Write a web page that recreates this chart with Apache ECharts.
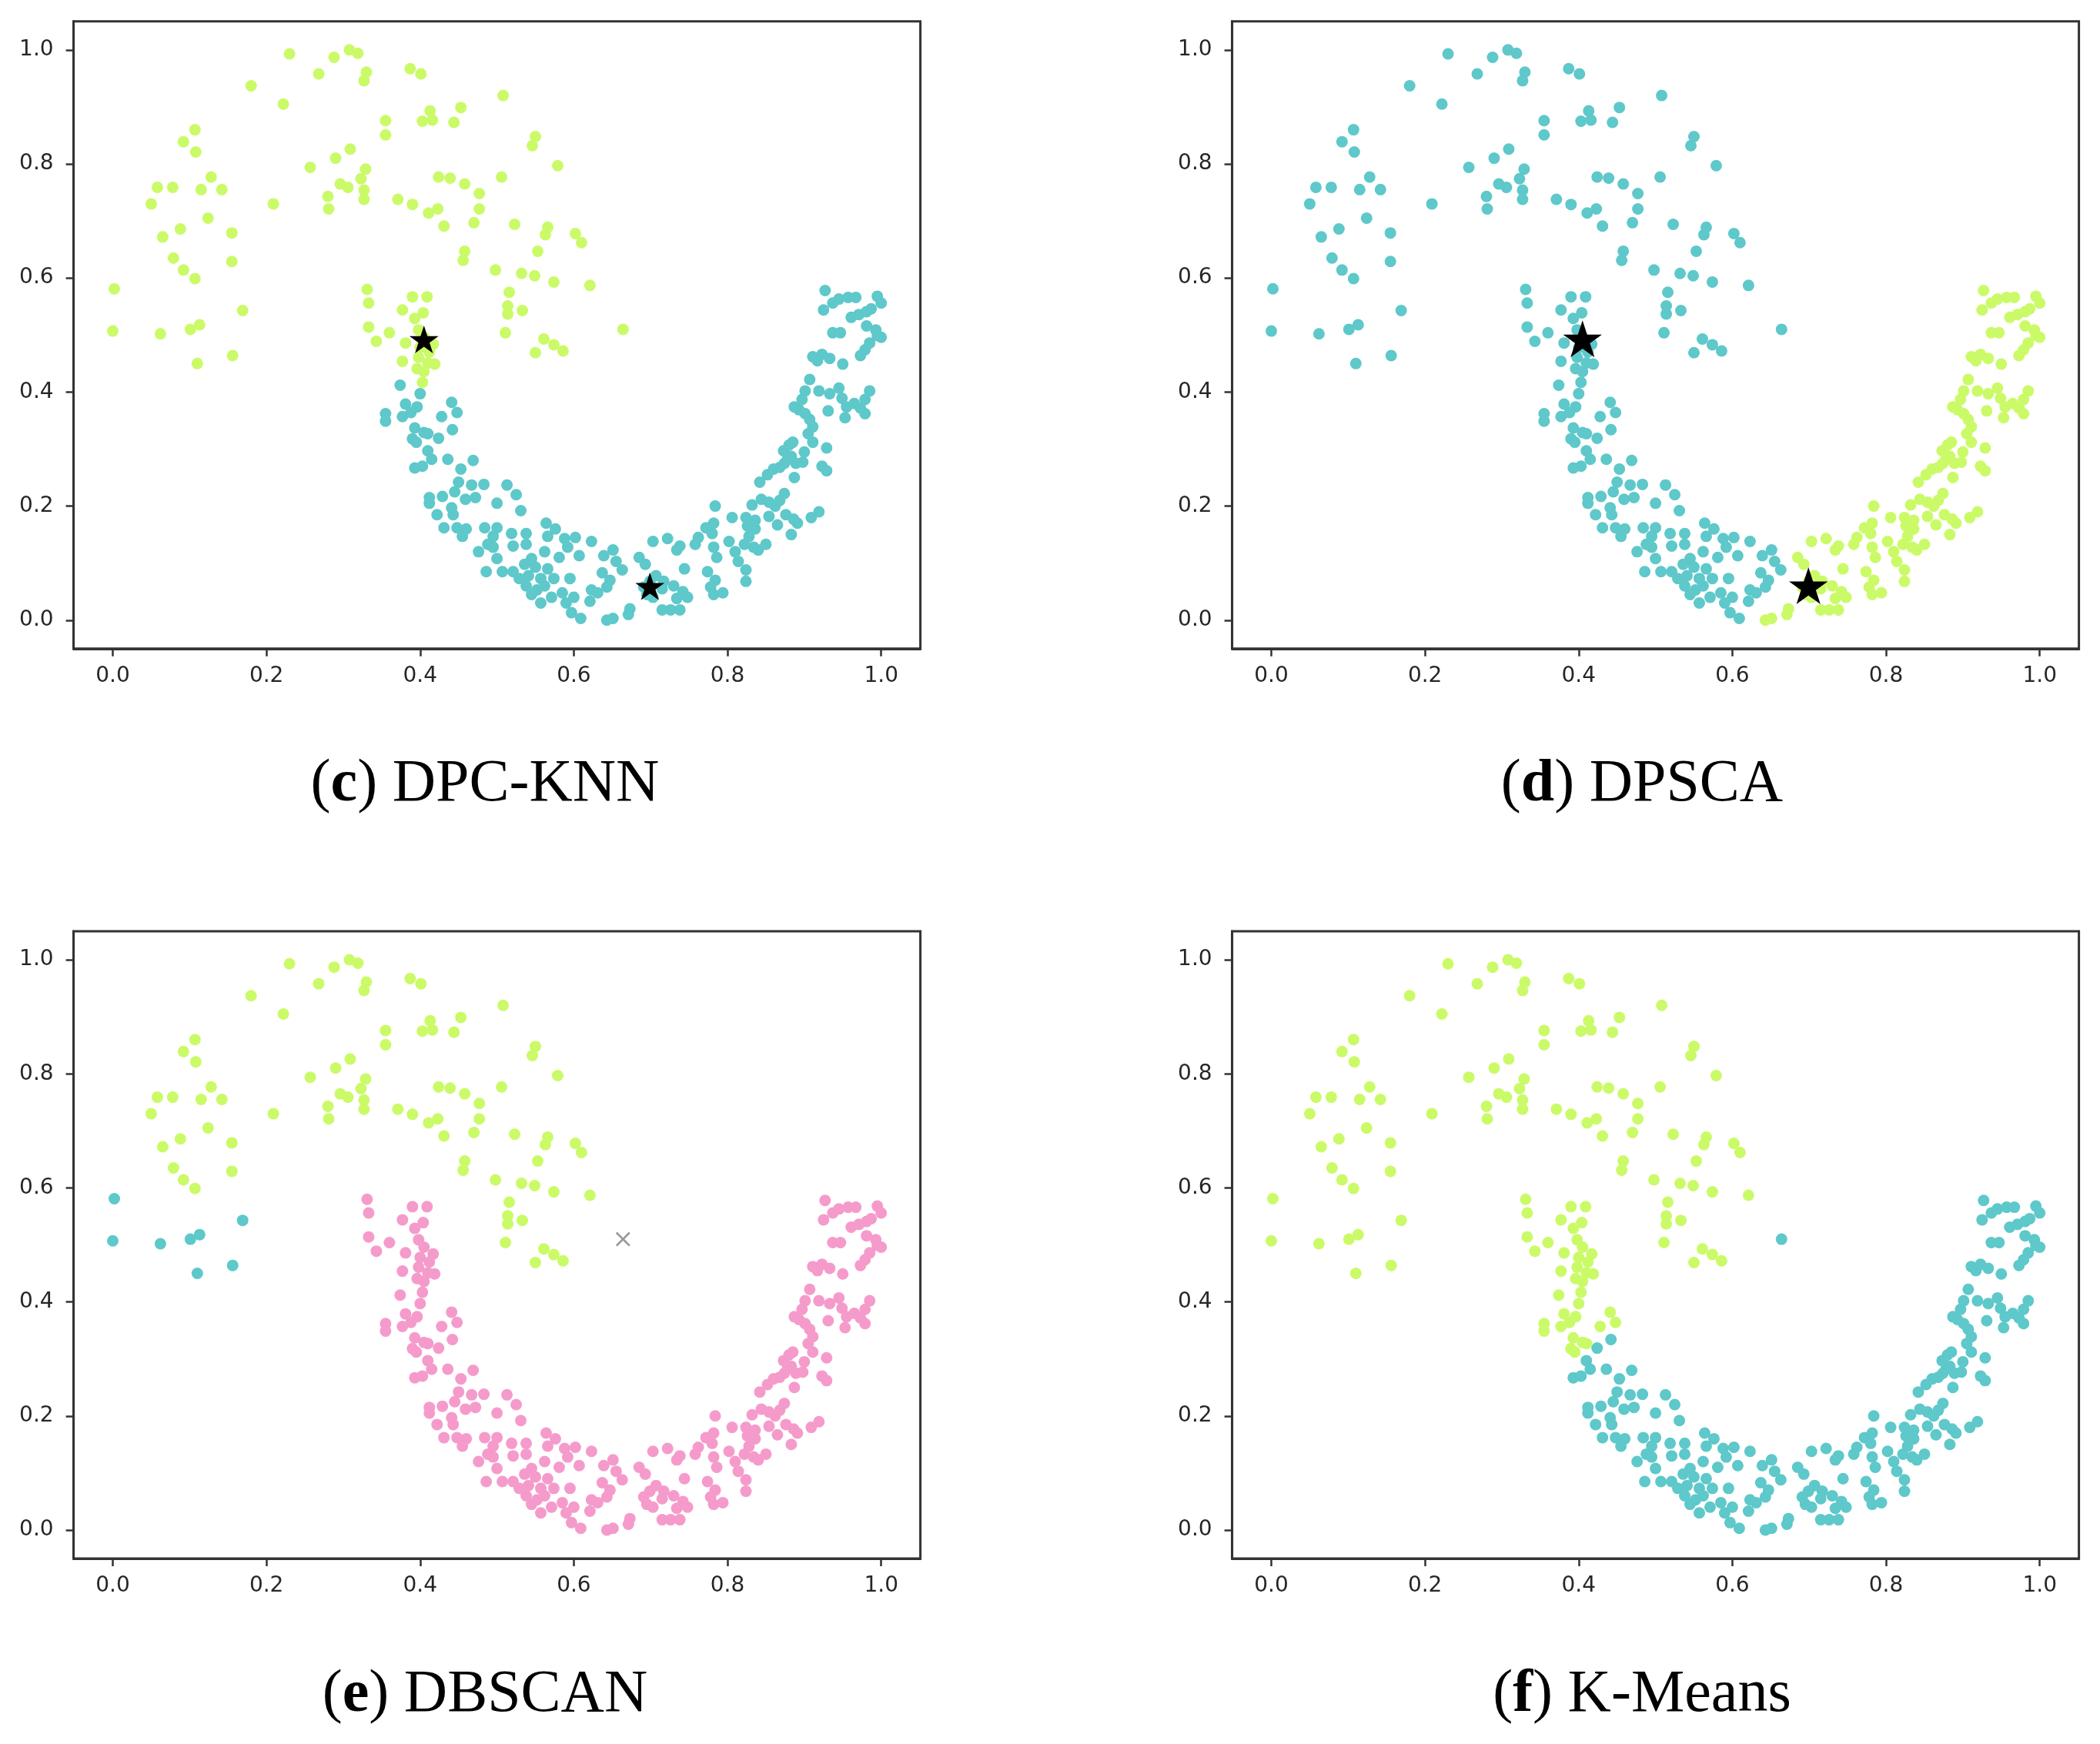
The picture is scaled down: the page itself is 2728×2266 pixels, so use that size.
<!DOCTYPE html>
<html>
<head>
<meta charset="utf-8">
<script src="https://cdn.jsdelivr.net/npm/echarts@6/dist/echarts.min.js"></script>
<style>
  html, body { margin: 0; padding: 0; background: #fff; }
  #chart { width: 2728px; height: 2266px; }
</style>
</head>
<body>
<div id="chart"></div>
<script>
// upper moon (without the small left group)
const upperArc = [
  [0.230,0.993],[0.288,0.987],[0.308,1.000],[0.319,0.994],[0.268,0.958],[0.330,0.961],[0.327,0.946],
  [0.387,0.967],[0.401,0.958],[0.180,0.937],[0.222,0.905],[0.508,0.920],[0.355,0.876],[0.355,0.851],
  [0.413,0.893],[0.403,0.875],[0.416,0.877],[0.453,0.899],[0.444,0.873],[0.107,0.860],[0.092,0.839],
  [0.108,0.821],[0.550,0.848],[0.546,0.832],[0.579,0.797],[0.309,0.826],[0.290,0.810],[0.257,0.794],
  [0.329,0.791],[0.323,0.774],[0.296,0.765],[0.306,0.759],[0.327,0.754],[0.327,0.738],[0.280,0.743],
  [0.281,0.721],[0.209,0.730],[0.424,0.777],[0.439,0.775],[0.458,0.765],[0.506,0.777],[0.477,0.748],
  [0.477,0.721],[0.470,0.697],[0.371,0.738],[0.390,0.729],[0.423,0.721],[0.411,0.714],[0.431,0.691],
  [0.523,0.694],[0.566,0.689],[0.563,0.676],[0.602,0.678],[0.610,0.662],[0.458,0.647],[0.456,0.631],
  [0.553,0.647],[0.498,0.614],[0.532,0.608],[0.549,0.604],[0.574,0.593],[0.621,0.587],[0.516,0.575],
  [0.514,0.551],[0.514,0.537],[0.533,0.543],[0.511,0.504],[0.561,0.493],[0.574,0.483],[0.586,0.472],
  [0.550,0.469],[0.058,0.759],[0.078,0.759],[0.050,0.730],[0.128,0.777],[0.115,0.755],[0.142,0.755],
  [0.124,0.705],[0.065,0.672],[0.088,0.686],[0.155,0.679],[0.079,0.635],[0.092,0.614],[0.107,0.599],
  [0.155,0.629]
];
// left end of the upper moon
const upperLeft = [
  [0.169,0.543],[0.002,0.581],[0.000,0.507],[0.062,0.502],[0.101,0.510],[0.113,0.518],[0.110,0.450],
  [0.156,0.464]
];
const noisePts = [[0.664,0.510]];
// lower moon, left tip
const lowerTip = [
  [0.331,0.580],[0.333,0.556],[0.390,0.567],[0.409,0.567],[0.377,0.544],[0.404,0.539],[0.393,0.529],
  [0.333,0.514],[0.360,0.504],[0.343,0.489],[0.398,0.509],[0.381,0.486],[0.405,0.496],[0.417,0.484],
  [0.377,0.454],[0.398,0.461],[0.410,0.451],[0.419,0.449],[0.396,0.441],[0.405,0.436],[0.403,0.417],
  [0.412,0.470],[0.400,0.478]
];
const lowerNeck = [
  [0.374,0.412],[0.400,0.397],[0.381,0.379],[0.396,0.374],[0.388,0.364],[0.355,0.362],[0.355,0.349],
  [0.377,0.357],[0.441,0.382],[0.448,0.364],[0.428,0.357],[0.393,0.337],[0.405,0.329],[0.390,0.318],
  [0.395,0.312],[0.410,0.327]
];
const lowerMid = [
  [0.442,0.334],[0.424,0.319],[0.410,0.297],[0.415,0.282],[0.436,0.282],[0.393,0.267],[0.403,0.270],
  [0.469,0.280],[0.453,0.265],[0.450,0.242],[0.467,0.237],[0.483,0.238],[0.513,0.237],[0.445,0.225],
  [0.525,0.220],[0.412,0.215],[0.429,0.217],[0.459,0.212],[0.472,0.215],[0.412,0.205],[0.500,0.205],
  [0.441,0.197],[0.422,0.185],[0.531,0.192],[0.443,0.185],[0.431,0.162],[0.448,0.162],[0.460,0.160],
  [0.455,0.147],[0.484,0.162],[0.500,0.162],[0.564,0.170],[0.576,0.160],[0.519,0.152],[0.538,0.152],
  [0.495,0.147],[0.488,0.133],[0.476,0.120],[0.495,0.128],[0.521,0.130],[0.538,0.133],[0.566,0.147],
  [0.588,0.143],[0.602,0.145],[0.592,0.128],[0.562,0.120],[0.607,0.113],[0.500,0.108],[0.545,0.108],
  [0.581,0.110],[0.550,0.093],[0.536,0.098],[0.521,0.085],[0.486,0.085],[0.507,0.085],[0.541,0.078],
  [0.529,0.073],[0.566,0.090],[0.557,0.073],[0.574,0.073],[0.595,0.073],[0.538,0.060],[0.552,0.053],
  [0.562,0.060],[0.545,0.045],[0.571,0.040],[0.557,0.030],[0.585,0.048],[0.600,0.040],[0.590,0.030],
  [0.597,0.013],[0.609,0.003],[0.621,0.033],[0.623,0.053],[0.623,0.138],[0.651,0.123],[0.639,0.113],
  [0.655,0.103],[0.637,0.083],[0.663,0.088],[0.647,0.070],[0.643,0.058],[0.631,0.048]
];
// lower moon, right arm
const lowerRight = [
  [0.643,0.000],[0.651,0.003],[0.671,0.010],[0.673,0.020],[0.685,0.110],[0.693,0.098],[0.703,0.138],
  [0.722,0.143],[0.707,0.078],[0.699,0.068],[0.691,0.058],[0.717,0.068],[0.695,0.045],[0.703,0.040],
  [0.715,0.055],[0.730,0.060],[0.742,0.050],[0.734,0.038],[0.748,0.040],[0.715,0.018],[0.726,0.018],
  [0.738,0.018],[0.734,0.123],[0.738,0.130],[0.744,0.090],[0.758,0.133],[0.762,0.145],[0.772,0.162],
  [0.784,0.200],[0.782,0.170],[0.780,0.152],[0.782,0.128],[0.786,0.110],[0.774,0.085],[0.784,0.070],
  [0.778,0.058],[0.794,0.048],[0.782,0.045],[0.802,0.138],[0.806,0.180],[0.810,0.120],[0.814,0.103],
  [0.824,0.088],[0.824,0.068],[0.822,0.133],[0.834,0.128],[0.840,0.123],[0.850,0.133],[0.828,0.147],
  [0.836,0.160],[0.826,0.165],[0.824,0.180],[0.832,0.202],[0.844,0.212],[0.854,0.207],[0.868,0.210],
  [0.874,0.222],[0.862,0.200],[0.854,0.182],[0.836,0.175],[0.865,0.167],[0.876,0.185],[0.886,0.177],
  [0.891,0.170],[0.883,0.150],[0.909,0.180],[0.919,0.190],[0.842,0.242],[0.852,0.255],[0.860,0.265],
  [0.868,0.268],[0.874,0.275],[0.878,0.282],[0.883,0.287],[0.889,0.275],[0.898,0.277],[0.887,0.250],
  [0.900,0.295],[0.873,0.297],[0.880,0.307],[0.885,0.312],[0.905,0.327],[0.911,0.312],[0.929,0.302],
  [0.929,0.262],[0.923,0.270],[0.911,0.339],[0.907,0.352],[0.901,0.362],[0.893,0.369],[0.887,0.374],
  [0.897,0.387],[0.901,0.402],[0.907,0.422],[0.919,0.402],[0.933,0.397],[0.931,0.367],[0.945,0.407],
  [0.949,0.389],[0.955,0.374],[0.953,0.355],[0.965,0.380],[0.973,0.372],[0.979,0.387],[0.985,0.402],
  [0.979,0.362],[0.917,0.455],[0.911,0.462],[0.923,0.466],[0.933,0.459],[0.950,0.449],[0.973,0.464],
  [0.979,0.474],[0.985,0.486],[0.995,0.499],[1.000,0.496],[0.993,0.509],[0.981,0.516],[0.937,0.504],
  [0.947,0.504],[0.927,0.578],[0.925,0.544],[0.937,0.556],[0.945,0.563],[0.957,0.566],[0.967,0.566],
  [0.961,0.531],[0.971,0.536],[0.981,0.541],[0.987,0.546],[0.995,0.568],[1.000,0.556]
];
const centers = [[0.405,0.490],[0.699,0.057]];
const xTicks = [0, 0.2, 0.4, 0.6, 0.8, 1.0];
const yTicks = [0, 0.2, 0.4, 0.6, 0.8, 1.0];
const tags = ['c', 'd', 'e', 'f'];
const names = ['DPC-KNN', 'DPSCA', 'DBSCAN', 'K-Means'];

const GREEN = '#cbfa68', TEAL = '#5ec8ca', PINK = '#f59bcb', GREY = '#7f7f7f', AXIS = '#333';
const STAR = 'path://M50 0 L61.23 34.55 L97.55 34.55 L68.17 55.9 L79.39 90.45 L50 69.1 L20.61 90.45 L31.83 55.9 L2.45 34.55 L38.77 34.55 Z';
const CROSS = 'path://M1 0 L5 4 L9 0 L10 1 L6 5 L10 9 L9 10 L5 6 L1 10 L0 9 L4 5 L0 1 Z';

// which color each group of points gets in each panel
const panels = [
  { groups: [[GREEN, upperArc.concat(upperLeft, noisePts, lowerTip)],
             [TEAL, lowerNeck.concat(lowerMid, lowerRight)]], star: 36 },
  { groups: [[TEAL, upperArc.concat(upperLeft, noisePts, lowerTip, lowerNeck, lowerMid)],
             [GREEN, lowerRight]], star: 48 },
  { groups: [[GREEN, upperArc], [TEAL, upperLeft],
             [PINK, lowerTip.concat(lowerNeck, lowerMid, lowerRight)]], noise: true },
  { groups: [[GREEN, upperArc.concat(upperLeft, lowerTip, lowerNeck)],
             [TEAL, noisePts.concat(lowerMid, lowerRight)]] }
];

const gridLeft = [95.6, 1600.6];
const gridTop = [27.8, 1210];
const titleX = [630, 2133];
const titleY = [1020, 2203];

const chart = echarts.init(document.getElementById('chart'));

const grid = [], xAxis = [], yAxis = [], series = [], graphic = [];
panels.forEach((p, i) => {
  const col = i % 2, row = Math.floor(i / 2);
  grid.push({ left: gridLeft[col], top: gridTop[row], width: 1100, height: 815,
    show: true, borderColor: AXIS, borderWidth: 3, backgroundColor: 'transparent' });
  const axisCommon = {
    type: 'value', gridIndex: i, min: -0.051, max: 1.051,
    splitLine: { show: false },
    axisLine: { show: true, onZero: false, lineStyle: { color: AXIS, width: 3 } },
    axisTick: { show: true, length: 10, lineStyle: { color: AXIS, width: 2.5 } },
    axisLabel: { fontFamily: 'DejaVu Sans', fontSize: 28, color: '#262626',
      formatter: v => v.toFixed(1) }
  };
  xAxis.push(Object.assign({}, axisCommon, {
    axisTick: Object.assign({}, axisCommon.axisTick, { customValues: xTicks }),
    axisLabel: Object.assign({}, axisCommon.axisLabel, { customValues: xTicks, margin: 22 })
  }));
  yAxis.push(Object.assign({}, axisCommon, { min: -0.05, max: 1.05,
    axisTick: Object.assign({}, axisCommon.axisTick, { customValues: yTicks }),
    axisLabel: Object.assign({}, axisCommon.axisLabel, { customValues: yTicks, margin: 26 })
  }));
  p.groups.forEach(g => {
    series.push({ type: 'scatter', xAxisIndex: i, yAxisIndex: i, data: g[1],
      symbol: 'circle', symbolSize: 15, itemStyle: { color: g[0], opacity: 1 } });
  });
  if (p.noise) {
    series.push({ type: 'scatter', xAxisIndex: i, yAxisIndex: i, data: noisePts,
      symbol: CROSS, symbolSize: 19, itemStyle: { color: GREY } });
  }
  if (p.star) {
    series.push({ type: 'scatter', xAxisIndex: i, yAxisIndex: i, data: centers, z: 5,
      symbol: STAR, symbolSize: [p.star * 1.05, p.star], symbolOffset: [0, -p.star * 0.05],
      itemStyle: { color: '#000', opacity: 1 } });
  }
  graphic.push({
    type: 'text', x: titleX[col], y: titleY[row],
    style: {
      text: '{n|(}{b|' + tags[i] + '}{n|) ' + names[i] + '}',
      align: 'center', verticalAlign: 'middle',
      font: '78px "Liberation Serif"',
      rich: {
        n: { fontFamily: 'Liberation Serif', fontSize: 78, fill: '#000', color: '#000' },
        b: { fontFamily: 'Liberation Serif', fontSize: 78, fontWeight: 'bold', fill: '#000', color: '#000' }
      }
    }
  });
});

chart.setOption({ animation: false, grid, xAxis, yAxis, series, graphic });

window.addEventListener('resize', function () {
  chart.resize();
});
</script>
</body>
</html>
